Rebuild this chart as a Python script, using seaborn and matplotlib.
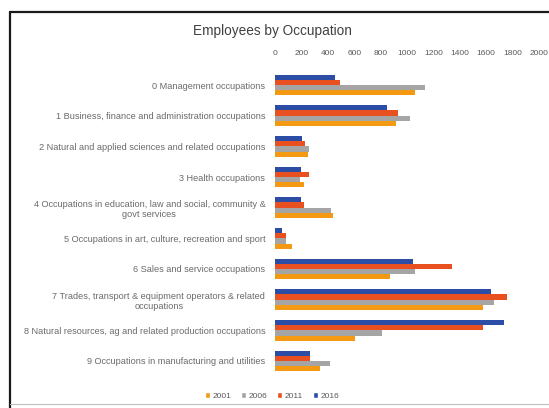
import matplotlib
matplotlib.use("Agg")
import matplotlib.pyplot as plt
from matplotlib.patches import Patch
from matplotlib.lines import Line2D
import pandas as pd
import seaborn as sns

occupations = [
    "0 Management occupations",
    "1 Business, finance and administration occupations",
    "2 Natural and applied sciences and related occupations",
    "3 Health occupations",
    "4 Occupations in education, law and social, community &\ngovt services",
    "5 Occupations in art, culture, recreation and sport",
    "6 Sales and service occupations",
    "7 Trades, transport & equipment operators & related\noccupations",
    "8 Natural resources, ag and related production occupations",
    "9 Occupations in manufacturing and utilities",
]
years = ["2001", "2006", "2011", "2016"]
emp_2001 = [1060, 920, 253, 222, 442, 131, 870, 1577, 606, 339]
emp_2006 = [1137, 1021, 258, 187, 422, 86, 1061, 1660, 813, 415]
emp_2011 = [490, 935, 227, 258, 217, 81, 1339, 1759, 1577, 263]
emp_2016 = [455, 851, 207, 195, 199, 55, 1046, 1637, 1736, 263]
colors = {"2001": "#F39A12", "2006": "#A5A5A5", "2011": "#E8511F", "2016": "#2B4DA6"}
x_ticks = [0, 200, 400, 600, 800, 1000, 1200, 1400, 1600, 1800, 2000]

series = {"2001": emp_2001, "2006": emp_2006, "2011": emp_2011, "2016": emp_2016}
rows = []
for yr in years:
    for occ, v in zip(occupations, series[yr]):
        rows.append({"Occupation": occ, "Year": yr, "Employees": v})
df = pd.DataFrame(rows)

sns.set_theme(style="white")
plt.rcParams["font.family"] = ["Liberation Sans", "DejaVu Sans"]

fig = plt.figure(figsize=(5.49, 4.08), dpi=100)
fig.patch.set_facecolor("white")
ax = fig.add_axes([275 / 549, 1 - 376.3 / 408, 264 / 549, (376.3 - 69.7) / 408])

# newest year on top within each group
stack_order = ["2016", "2011", "2006", "2001"]
sns.barplot(data=df, y="Occupation", x="Employees", hue="Year",
            hue_order=stack_order, order=occupations, orient="h",
            palette=colors, width=0.68, errorbar=None, ax=ax, legend=False,
            saturation=1, linewidth=0)

ax.set_xlim(0, 2000)
ax.set_xticks(x_ticks)
ax.set_xticklabels([str(t) for t in x_ticks])
ax.xaxis.tick_top()
ax.tick_params(axis="x", length=0, labelsize=6, colors="#595959", pad=9)
ax.tick_params(axis="y", length=0, labelsize=6.6, colors="#6a6a6a", pad=7)
for lbl in ax.get_yticklabels():
    lbl.set_horizontalalignment("right")
    lbl.set_multialignment("center")
ax.set_xlabel("")
ax.set_ylabel("")
for s in ax.spines.values():
    s.set_visible(False)

fig.text(272 / 549, 1 - 31 / 408, "Employees by Occupation", ha="center", va="center",
         fontsize=9.8, color="#404040")

handles = [Patch(facecolor=colors[y], label=y) for y in years]
fig.legend(handles=handles, loc="center", bbox_to_anchor=(272 / 549, 1 - 396 / 408),
           ncol=4, frameon=False, fontsize=6, handlelength=0.6, handleheight=0.6,
           columnspacing=1.2, handletextpad=0.3, labelcolor="#595959")

# chart frame: dark top and left edges, light bottom edge
px = lambda x: x / 549
py = lambda y: 1 - y / 408
fig.add_artist(Line2D([px(10), px(549)], [py(12), py(12)], transform=fig.transFigure,
                      color="#1a1a1a", linewidth=1.6))
fig.add_artist(Line2D([px(10), px(10)], [py(12), py(408)], transform=fig.transFigure,
                      color="#1a1a1a", linewidth=1.6))
fig.add_artist(Line2D([px(10), px(549)], [py(404), py(404)], transform=fig.transFigure,
                      color="#bdbdbd", linewidth=0.8))

fig.savefig("out.png", dpi=100, facecolor="white")
